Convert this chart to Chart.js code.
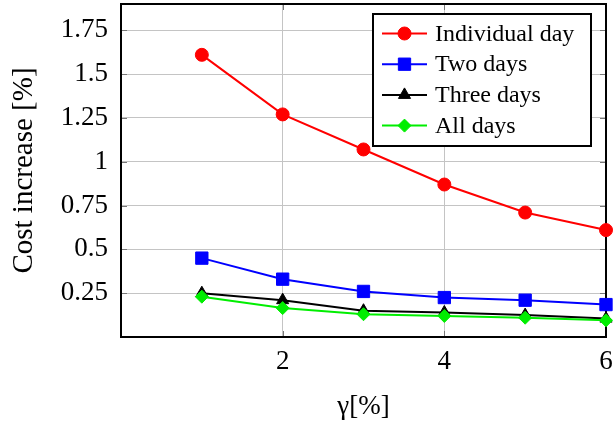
<!DOCTYPE html>
<html>
<head>
<meta charset="utf-8">
<script src="https://cdn.jsdelivr.net/npm/chart.js@4"></script>
<style>
  html, body { margin: 0; padding: 0; background: #fff; }
  #wrap { width: 613px; height: 423px; }
</style>
</head>
<body>
<div id="wrap"><canvas id="c" width="613" height="423"></canvas></div>
<script>
const gammaValues = [1, 2, 3, 4, 5, 6];
const seriesNames = ["Individual day", "Two days", "Three days", "All days"];
const individualDay = [1.61, 1.27, 1.07, 0.87, 0.71, 0.61];
const twoDays = [0.45, 0.33, 0.26, 0.225, 0.21, 0.185];
const threeDays = [0.25, 0.21, 0.15, 0.14, 0.125, 0.105];
const allDays = [0.23, 0.165, 0.13, 0.12, 0.11, 0.095];
const xTickValues = [2, 4, 6];
const yTickValues = [0.25, 0.5, 0.75, 1, 1.25, 1.5, 1.75];
const xTitle = "γ[%]";
const yTitle = "Cost increase [%]";

const SERIF = "'Liberation Serif', 'Times New Roman', serif";

function toPoints(arr) { return arr.map((v, i) => ({ x: gammaValues[i], y: v })); }

const seriesStyles = [
  { color: '#ff0000', pointStyle: 'circle', radius: 6.5, order: 3 },
  { color: '#0000ff', pointStyle: 'rect', radius: 8.7, order: 2 },
  { color: '#000000', pointStyle: 'triangle', radius: 7, order: 1 },
  { color: '#00ee00', pointStyle: 'rectRot', radius: 6.5, order: 0 }
];
const seriesValues = [individualDay, twoDays, threeDays, allDays];

const datasets = seriesValues.map((vals, i) => ({
  label: seriesNames[i],
  data: toPoints(vals),
  borderColor: seriesStyles[i].color,
  backgroundColor: seriesStyles[i].color,
  pointBackgroundColor: seriesStyles[i].color,
  pointBorderColor: seriesStyles[i].color,
  pointBorderWidth: 1,
  pointStyle: seriesStyles[i].pointStyle,
  pointRadius: seriesStyles[i].radius,
  borderWidth: 2,
  tension: 0,
  clip: false,
  order: seriesStyles[i].order
}));

const framePlugin = {
  id: 'frame',
  beforeDatasetsDraw(chart) {
    const { ctx, chartArea: a, scales } = chart;
    ctx.save();
    ctx.strokeStyle = '#777';
    ctx.lineWidth = 1;
    const tl = 6;
    ctx.beginPath();
    xTickValues.forEach(v => {
      const px = Math.round(scales.x.getPixelForValue(v)) + 0.5;
      ctx.moveTo(px, a.bottom); ctx.lineTo(px, a.bottom - tl);
      ctx.moveTo(px, a.top); ctx.lineTo(px, a.top + tl);
    });
    yTickValues.forEach(v => {
      const py = Math.round(scales.y.getPixelForValue(v)) + 0.5;
      ctx.moveTo(a.left, py); ctx.lineTo(a.left + tl, py);
      ctx.moveTo(a.right, py); ctx.lineTo(a.right - tl, py);
    });
    ctx.stroke();
    ctx.strokeStyle = '#000';
    ctx.lineWidth = 2;
    ctx.strokeRect(a.left, a.top, a.right - a.left, a.bottom - a.top);
    ctx.restore();
  }
};

const legendPlugin = {
  id: 'boxLegend',
  afterDraw(chart) {
    const { ctx } = chart;
    const bx = 373, by = 14, bw = 218, bh = 132;
    ctx.save();
    ctx.fillStyle = '#fff';
    ctx.fillRect(bx, by, bw, bh);
    ctx.strokeStyle = '#000';
    ctx.lineWidth = 2;
    ctx.strokeRect(bx, by, bw, bh);
    const rowH = 30.7;
    const y0 = 33.5;
    chart.data.datasets.forEach((ds, i) => {
      const y = y0 + i * rowH;
      ctx.strokeStyle = ds.borderColor;
      ctx.lineWidth = 2;
      ctx.beginPath();
      ctx.moveTo(382, y); ctx.lineTo(427, y);
      ctx.stroke();
      ctx.fillStyle = ds.pointBackgroundColor;
      ctx.strokeStyle = ds.pointBorderColor;
      ctx.lineWidth = 1;
      Chart.helpers.drawPoint(ctx, { pointStyle: ds.pointStyle, radius: ds.pointRadius, rotation: 0, borderWidth: 1 }, 404.5, y);
      ctx.fillStyle = '#000';
      ctx.font = "24px " + SERIF;
      ctx.textBaseline = 'middle';
      ctx.textAlign = 'left';
      ctx.fillText(ds.label, 435, y + 1);
    });
    ctx.restore();
  }
};

new Chart(document.getElementById('c'), {
  type: 'line',
  data: { datasets },
  options: {
    responsive: false,
    animation: false,
    events: [],
    layout: { autoPadding: false, padding: { top: 4, right: 7, left: 0, bottom: 0 } },
    plugins: { legend: { display: false }, tooltip: { enabled: false } },
    scales: {
      x: {
        type: 'linear',
        min: 0, max: 6,
        afterFit(s) { s.height = 86; s.paddingLeft = 0; s.paddingRight = 0; },
        afterBuildTicks(s) { s.ticks = xTickValues.map(v => ({ value: v })); },
        grid: { color: '#c4c4c4', lineWidth: 1, drawTicks: false },
        border: { display: false },
        ticks: {
          color: '#000', padding: 9, maxRotation: 0,
          font: { family: SERIF, size: 27 },
          callback: v => String(v)
        },
        title: {
          display: true, text: xTitle, color: '#000',
          font: { family: SERIF, size: 27 },
          padding: { top: 0, bottom: 0 }
        }
      },
      y: {
        type: 'linear',
        min: 0, max: 1.9,
        afterFit(s) { s.width = 121; s.paddingTop = 0; s.paddingBottom = 0; },
        afterBuildTicks(s) { s.ticks = yTickValues.map(v => ({ value: v })); },
        grid: { color: '#c4c4c4', lineWidth: 1, drawTicks: false },
        border: { display: false },
        ticks: {
          color: '#000', padding: 13,
          font: { family: SERIF, size: 27 },
          callback: v => String(v)
        },
        title: {
          display: true, text: yTitle, color: '#000',
          font: { family: SERIF, size: 29 },
          padding: { top: 7, bottom: 0 }
        }
      }
    }
  },
  plugins: [framePlugin, legendPlugin]
});
</script>
</body>
</html>
